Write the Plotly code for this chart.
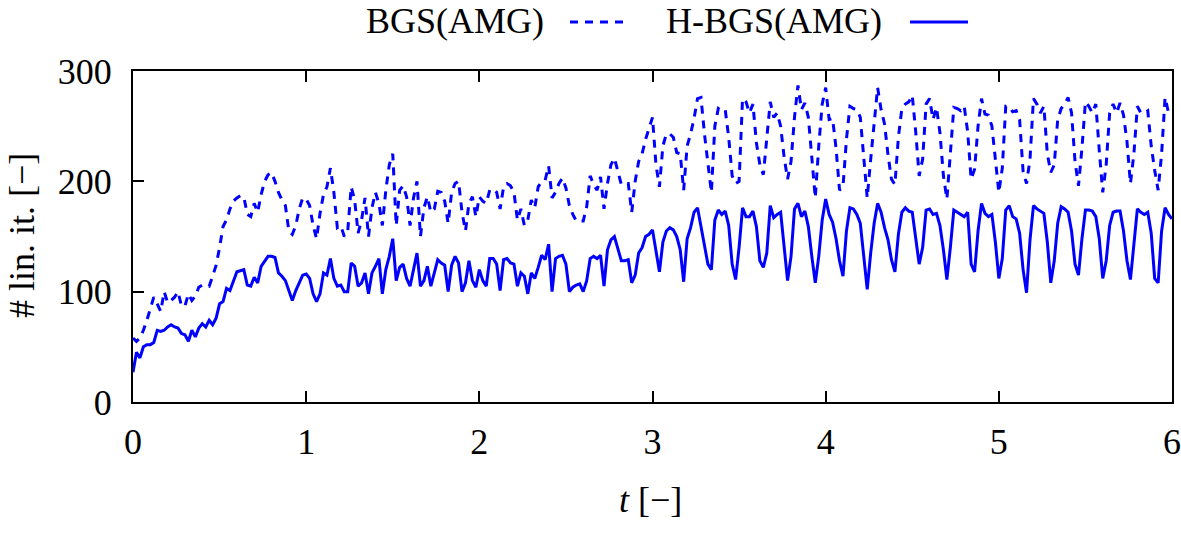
import numpy as np
import plotly.graph_objects as go

# time grid (dt = 0.02)
t = np.round(np.arange(301) * 0.02, 2)

# H-BGS(AMG): linear iterations (solid)
hbgs = [
    27, 45, 40, 50, 52, 52, 54, 65, 64, 65,
    68, 70, 68, 67, 62, 61, 55, 65, 59, 67,
    71, 68, 74, 70, 76, 89, 91, 103, 101, 110,
    118, 119, 120, 106, 105, 113, 108, 123, 127, 132,
    132, 131, 117, 114, 110, 101, 92, 101, 108, 115,
    116, 112, 98, 91, 98, 117, 115, 130, 112, 105,
    106, 100, 100, 126, 123, 105, 108, 117, 98, 117,
    123, 130, 98, 120, 132, 148, 110, 122, 125, 112,
    105, 120, 135, 105, 110, 123, 105, 117, 129, 126,
    124, 100, 124, 132, 126, 100, 108, 128, 110, 104,
    120, 110, 105, 130, 130, 125, 101, 129, 130, 126,
    125, 105, 117, 114, 98, 117, 112, 122, 133, 129,
    143, 100, 130, 132, 133, 125, 100, 104, 106, 107,
    100, 110, 130, 132, 130, 133, 105, 138, 147, 150,
    140, 128, 128, 129, 108, 115, 135, 140, 150, 152,
    156, 135, 118, 145, 155, 158, 156, 150, 138, 109,
    148, 158, 172, 176, 159, 141, 125, 120, 165, 174,
    170, 173, 160, 125, 111, 140, 176, 168, 168, 173,
    159, 128, 122, 135, 178, 167, 170, 172, 140, 110,
    132, 175, 180, 168, 173, 159, 132, 108, 132, 165,
    184, 170, 163, 148, 128, 114, 155, 176, 175, 170,
    162, 129, 102, 135, 162, 180, 172, 158, 147, 129,
    118, 152, 172, 176, 173, 172, 150, 125, 140, 174,
    175, 170, 171, 160, 138, 111, 140, 174, 172, 170,
    168, 172, 125, 118, 155, 180, 171, 168, 170, 145,
    112, 130, 174, 178, 168, 166, 153, 120, 99, 147,
    178, 175, 173, 171, 145, 108, 128, 162, 177, 175,
    172, 155, 125, 115, 148, 174, 174, 173, 168, 148,
    112, 128, 160, 172, 173, 173, 155, 128, 111, 140,
    175, 172, 170, 172, 153, 112, 108, 155, 176, 170,
    166,
]

# BGS(AMG): linear iterations (dashed)
bgs = [
    58, 55, 58, 65, 74, 85, 95, 89, 82, 100,
    90, 92, 95, 100, 87, 87, 98, 92, 96, 104,
    106, 106, 105, 114, 124, 140, 159, 165, 175, 182,
    185, 187, 186, 170, 168, 180, 172, 188, 200, 206,
    208, 200, 190, 183, 178, 155, 152, 160, 175, 185,
    184, 178, 160, 148, 171, 188, 195, 212, 190, 158,
    160, 150, 155, 195, 183, 153, 165, 185, 150, 176,
    190, 180, 160, 192, 215, 225, 160, 192, 196, 186,
    160, 185, 200, 150, 176, 186, 172, 175, 191, 190,
    182, 162, 190, 198, 200, 172, 155, 180, 186, 168,
    186, 182, 180, 192, 193, 190, 175, 195, 198, 196,
    190, 165, 175, 160, 165, 183, 176, 195, 200, 201,
    214, 185, 190, 198, 203, 194, 178, 170, 164, 164,
    164, 177, 205, 197, 192, 204, 175, 198, 215, 221,
    210, 197, 198, 198, 172, 200, 218, 225, 238, 248,
    258, 215, 195, 232, 243, 243, 240, 226, 225, 192,
    232, 243, 257, 275, 276, 243, 215, 190, 250, 266,
    264, 265, 240, 205, 198, 200, 275, 272, 262, 270,
    235, 215, 206, 238, 272, 258, 262, 250, 222, 202,
    218, 258, 287, 265, 271, 258, 220, 185, 232, 270,
    285, 256, 257, 230, 192, 195, 238, 268, 266, 265,
    258, 225, 185, 220, 256, 285, 265, 252, 224, 202,
    197, 240, 266, 270, 272, 278, 245, 205, 220, 270,
    275, 256, 267, 244, 205, 184, 225, 267, 266, 264,
    268, 245, 202, 211, 250, 275, 261, 260, 250, 222,
    190, 212, 268, 268, 263, 264, 256, 209, 198, 220,
    275, 270, 262, 268, 225, 208, 215, 256, 266, 270,
    276, 262, 218, 196, 230, 272, 268, 262, 270, 228,
    190, 215, 262, 270, 262, 271, 260, 236, 198, 225,
    268, 262, 262, 264, 232, 210, 192, 225, 276, 262,
    264,
]

series_names = ["BGS(AMG)", "H-BGS(AMG)"]
x_ticks = [0, 1, 2, 3, 4, 5, 6]
y_ticks = [0, 100, 200, 300]
x_title = "<i>t</i> [\u2212]"
y_title = "# lin. it. [\u2212]"

BLUE = "#0000ff"
FONT = "Liberation Serif"
FS = 36
DASH = "8px,7px"
LW = 3

W, H = 1181, 545
L, R, T, B = 133, 9, 71, 143
pw, ph = W - L - R, H - T - B


def px(xpix):
    return (xpix - L) / pw


def py(ypix):
    return (H - B - ypix) / ph


fig = go.Figure()
fig.add_trace(go.Scatter(x=t, y=bgs, mode="lines", name=series_names[0],
                         line=dict(color=BLUE, width=LW, dash=DASH)))
fig.add_trace(go.Scatter(x=t, y=hbgs, mode="lines", name=series_names[1],
                         line=dict(color=BLUE, width=LW)))

axis_common = dict(
    showgrid=False, zeroline=False, showline=True, linecolor="black",
    linewidth=2, ticks="inside", ticklen=11, tickwidth=1.5, tickcolor="black",
    tickfont=dict(family=FONT, size=FS, color="black"), automargin=False,
)
fig.update_xaxes(range=[0, 6], tickvals=x_ticks, ticktext=[str(v) for v in x_ticks],
                 mirror="ticks", ticklabelstandoff=7, **axis_common)
fig.update_yaxes(range=[0, 300], tickvals=y_ticks, ticktext=[str(v) for v in y_ticks],
                 mirror=True, ticklabelstandoff=12, **axis_common)

ann_font = dict(family=FONT, size=FS, color="black")
annotations = [
    dict(x=px(650), y=py(500), xref="paper", yref="paper", text=x_title,
         showarrow=False, xanchor="center", yanchor="middle", font=ann_font),
    dict(x=px(22), y=py(236), xref="paper", yref="paper", text=y_title,
         showarrow=False, xanchor="center", yanchor="middle", textangle=-90,
         font=ann_font),
    dict(x=px(546), y=py(21), xref="paper", yref="paper", text=series_names[0],
         showarrow=False, xanchor="right", yanchor="middle", font=ann_font),
    dict(x=px(884), y=py(21), xref="paper", yref="paper", text=series_names[1],
         showarrow=False, xanchor="right", yanchor="middle", font=ann_font),
]
shapes = [
    dict(type="line", xref="paper", yref="paper", x0=px(570), x1=px(630),
         y0=py(22), y1=py(22), line=dict(color=BLUE, width=LW, dash=DASH)),
    dict(type="line", xref="paper", yref="paper", x0=px(910), x1=px(968),
         y0=py(22), y1=py(22), line=dict(color=BLUE, width=LW)),
]

fig.update_layout(
    width=W, height=H,
    margin=dict(l=L, r=R, t=T, b=B, pad=0),
    paper_bgcolor="white", plot_bgcolor="white",
    showlegend=False,
    annotations=annotations, shapes=shapes,
    font=dict(family=FONT, size=FS, color="black"),
)

fig.write_html(
    "out.html",
    config={"displayModeBar": False},
    post_script="document.body.style.margin='0';document.body.style.overflow='hidden';",
)
